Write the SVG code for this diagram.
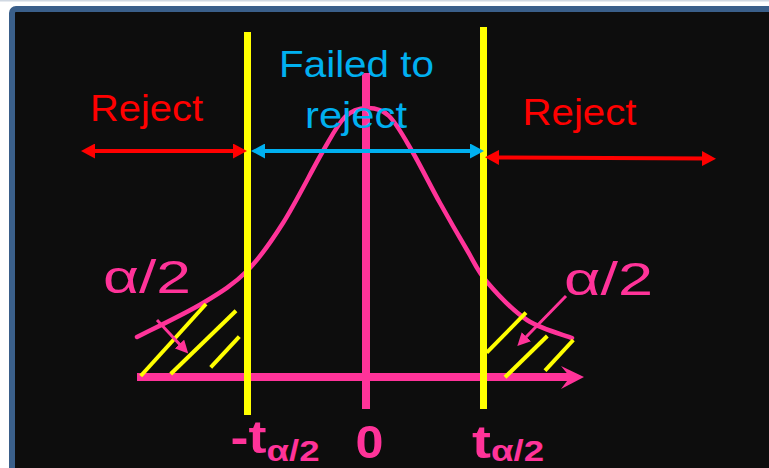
<svg xmlns="http://www.w3.org/2000/svg" width="769" height="468" viewBox="0 0 769 468">
  <style>
    .lbl { font-family: "Liberation Sans", Arial, sans-serif; }
    .reject { fill: #ff0000; font-size: 37px; }
    .keep { fill: #00b0f0; font-size: 37px; }
    .alpha { fill: #ff3399; font-size: 46px; }
    .tick { fill: #ff3399; font-size: 46px; font-weight: bold; }
    .sub { fill: #ff3399; font-size: 30px; font-weight: bold; }
    .yel { fill: #ffff00; }
    .hatch { stroke: #ffff00; stroke-width: 4; stroke-linecap: butt; fill: none; }
    .pink { fill: #ff3399; }
    .curve { stroke: #ff3399; stroke-width: 4.5; fill: none; stroke-linecap: round; }
    .red { stroke: #ff0000; stroke-width: 4; fill: none; }
    .cyan { stroke: #00b0f0; stroke-width: 4; fill: none; }
    .parrow { stroke: #ff3399; stroke-width: 3; fill: none; }
  </style>
  <defs>
    <marker id="mRed" viewBox="0 0 14 15" refX="4" refY="7.5" markerWidth="14" markerHeight="15" markerUnits="userSpaceOnUse" orient="auto-start-reverse">
      <path d="M0,0 L14,7.5 L0,15 z" fill="#ff0000"/>
    </marker>
    <marker id="mCyan" viewBox="0 0 14 15" refX="4" refY="7.5" markerWidth="14" markerHeight="15" markerUnits="userSpaceOnUse" orient="auto-start-reverse">
      <path d="M0,0 L14,7.5 L0,15 z" fill="#00b0f0"/>
    </marker>
    <marker id="mPink" viewBox="0 0 13 13" refX="5" refY="6.5" markerWidth="13" markerHeight="13" markerUnits="userSpaceOnUse" orient="auto">
      <path d="M0,0 L13,6.5 L0,13 z" fill="#ff3399"/>
    </marker>
  </defs>

  <g id="frame">
    <rect x="0" y="0" width="769" height="468" fill="#ffffff"/>
    <rect x="0" y="0" width="769" height="1.5" fill="#d0d8e2"/>
    <rect x="12" y="9" width="800" height="500" rx="4" fill="#0d0d0d" stroke="#3a5f8a" stroke-width="6"/>
  </g>

  <g id="curve">
    <path class="curve" d="M137,337 C148,331.3 184.7,314 203,303 C221.3,292 233.7,284.3 247,271 C260.3,257.7 270.3,243 283,223 C295.7,203 312.7,168.7 323,151 C333.3,133.3 337.7,124.2 345,117 C352.3,109.8 359.7,108.2 367,108 C374.3,107.8 381.5,108.8 389,116 C396.5,123.2 403.5,136.5 412,151 C420.5,165.5 430.8,186.5 440,203 C449.2,219.5 459.2,236.8 467,250 C474.8,263.2 477,270.3 487,282 C497,293.7 512.8,310.7 527,320 C541.2,329.3 564.5,335 572,338"/>
  </g>

  <g id="axis">
    <rect class="pink" x="137" y="373" width="435" height="8"/>
    <polygon class="pink" points="561,366 584,377 561,389 570,377"/>
    <rect class="pink" x="362" y="73" width="8" height="336"/>
  </g>

  <g id="tails">
    <line class="hatch" x1="140.7" y1="376" x2="206" y2="304"/>
    <line class="hatch" x1="170.7" y1="374" x2="236" y2="310.7"/>
    <line class="hatch" x1="210.7" y1="367.3" x2="239.3" y2="336.7"/>
    <line class="hatch" x1="486.7" y1="352.7" x2="526" y2="312.7"/>
    <line class="hatch" x1="505" y1="377.3" x2="547.3" y2="336"/>
    <line class="hatch" x1="545" y1="370.7" x2="573.3" y2="340"/>
  </g>

  <g id="critical-left">
    <rect class="yel" x="244" y="32" width="7" height="383"/>
  </g>
  <g id="critical-right">
    <rect class="yel" x="480" y="27" width="7" height="382"/>
  </g>

  <g id="connectors">
    <line class="red" x1="91" y1="151" x2="237" y2="151" marker-start="url(#mRed)" marker-end="url(#mRed)"/>
    <line class="red" x1="495" y1="157.4" x2="706" y2="158.6" marker-start="url(#mRed)" marker-end="url(#mRed)"/>
    <line class="cyan" x1="261" y1="151" x2="474" y2="151" marker-start="url(#mCyan)" marker-end="url(#mCyan)"/>
    <line class="parrow" x1="157" y1="320" x2="182.8" y2="347.7" marker-end="url(#mPink)"/>
    <line class="parrow" x1="566" y1="296" x2="522.9" y2="340.3" marker-end="url(#mPink)"/>
  </g>

  <g id="label-reject-left">
    <text class="lbl reject" x="90" y="120.7" textLength="113" lengthAdjust="spacingAndGlyphs">Reject</text>
  </g>
  <g id="label-reject-right">
    <text class="lbl reject" x="522.5" y="125" textLength="114" lengthAdjust="spacingAndGlyphs">Reject</text>
  </g>
  <g id="label-failed">
    <text class="lbl keep" x="279" y="76.7" textLength="155" lengthAdjust="spacingAndGlyphs">Failed to</text>
    <text class="lbl keep" x="305" y="128.3" textLength="102" lengthAdjust="spacingAndGlyphs">reject</text>
  </g>
  <g id="label-alpha-left">
    <text class="lbl alpha" x="103" y="292.7" textLength="88" lengthAdjust="spacingAndGlyphs">α/2</text>
  </g>
  <g id="label-alpha-right">
    <text class="lbl alpha" x="564" y="295" textLength="89" lengthAdjust="spacingAndGlyphs">α/2</text>
  </g>
  <g id="label-minus-t">
    <text class="lbl tick" x="230.5" y="453.3" textLength="36" lengthAdjust="spacingAndGlyphs">-t</text>
    <text class="lbl sub" x="266.5" y="461" textLength="53" lengthAdjust="spacingAndGlyphs">α/2</text>
  </g>
  <g id="label-zero">
    <text class="lbl tick" x="355.5" y="457.7" textLength="28" lengthAdjust="spacingAndGlyphs">0</text>
  </g>
  <g id="label-t">
    <text class="lbl tick" x="472" y="457.7" textLength="19" lengthAdjust="spacingAndGlyphs">t</text>
    <text class="lbl sub" x="491" y="461" textLength="53" lengthAdjust="spacingAndGlyphs">α/2</text>
  </g>
</svg>
